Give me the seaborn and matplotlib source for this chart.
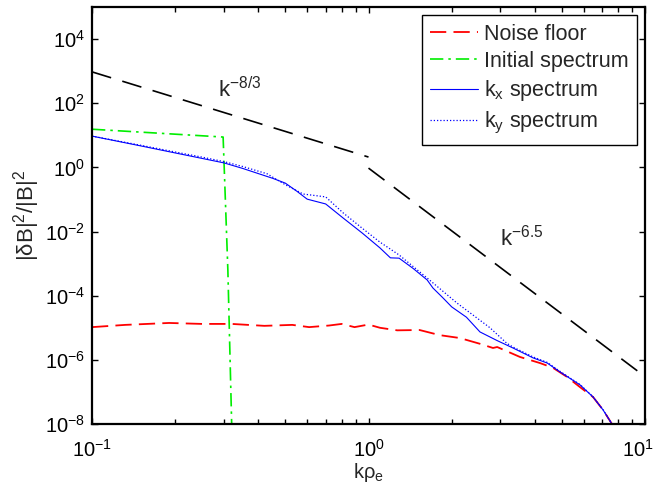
import numpy as np
import pandas as pd
import matplotlib
matplotlib.use("Agg")
import matplotlib.pyplot as plt
from matplotlib.ticker import LogLocator, NullLocator, LogFormatterSciNotation, NullFormatter
from matplotlib.transforms import ScaledTranslation
import seaborn as sns

# ---- data ----
noise_k = [0.1, 0.132, 0.19, 0.25, 0.32, 0.42, 0.53, 0.61, 0.72, 0.80, 0.89, 1.0, 1.1, 1.27,
           1.53, 1.81, 2.14, 2.53, 2.82, 2.92, 3.53, 4.17, 4.65, 5.22, 5.82, 6.49, 7.05, 7.66]
noise_log = [-4.98, -4.91, -4.85, -4.88, -4.88, -4.94, -4.91, -4.98, -4.93, -4.88, -4.98, -4.90,
             -5.0, -5.08, -5.07, -5.23, -5.32, -5.5, -5.63, -5.60, -5.91, -6.1, -6.25, -6.53,
             -6.85, -7.16, -7.56, -8.05]

init_k = [0.1, 0.298, 0.31, 0.32, 0.322]
init_log = [1.19, 0.946, -3.2, -8.0, -8.5]

kx_k = [0.1, 0.15, 0.2, 0.25, 0.3, 0.35, 0.405, 0.45, 0.5, 0.55, 0.6, 0.7, 0.81, 0.95, 1.1,
        1.2, 1.29, 1.45, 1.63, 1.71, 1.85, 2.0, 2.26, 2.53, 2.92, 3.33, 3.94, 4.43, 4.93,
        5.82, 6.49, 7.05, 7.66]
kx_log = [0.975, 0.67, 0.45, 0.28, 0.14, -0.03, -0.21, -0.34, -0.49, -0.74, -0.99, -1.14,
          -1.58, -2.05, -2.51, -2.82, -2.83, -3.15, -3.51, -3.76, -4.05, -4.35, -4.67, -5.13,
          -5.40, -5.63, -5.94, -6.1, -6.38, -6.78, -7.16, -7.56, -8.05]

ky_k = [0.1, 0.15, 0.2, 0.25, 0.3, 0.35, 0.43, 0.5, 0.58, 0.7, 0.81, 0.95, 1.1, 1.29, 1.63,
        2.09, 2.75, 3.16, 3.33, 3.94, 4.43, 4.93, 5.82, 6.49, 7.05, 7.66]
ky_log = [0.975, 0.69, 0.48, 0.32, 0.18, 0.03, -0.20, -0.54, -0.83, -0.92, -1.42, -1.9,
          -2.33, -2.73, -3.45, -4.23, -5.0, -5.48, -5.6, -5.91, -6.08, -6.36, -6.77, -7.15,
          -7.55, -8.05]

ref1_k = [0.1, 1.0]
ref1_y = [950.0, 2.1]
ref2_k = [1.0, 10.0]
ref2_y = [0.95, 3.0e-7]

# ---- style ----
sns.set_style("ticks")
plt.rcParams['font.family'] = ['Liberation Sans', 'DejaVu Sans']
plt.rcParams['mathtext.default'] = 'regular'
plt.rcParams['mathtext.fontset'] = 'custom'
plt.rcParams['mathtext.rm'] = 'Liberation Sans'
plt.rcParams['mathtext.it'] = 'Liberation Sans'

fig = plt.figure(figsize=(6.59, 4.93), dpi=100)
ax = fig.add_axes([92/659, 1-424/493, (645-92)/659, (424-7)/493])

sns.lineplot(x=noise_k, y=10**np.array(noise_log), ax=ax, color='#ff0000', lw=1.3,
             linestyle=(0, (9, 4)), label='Noise floor', sort=False)
sns.lineplot(x=init_k, y=10**np.array(init_log), ax=ax, color='#00ee00', lw=1.2,
             linestyle=(0, (8, 3, 1.5, 3)), label='Initial spectrum', sort=False)
sns.lineplot(x=kx_k, y=10**np.array(kx_log), ax=ax, color='#0000ff', lw=0.8,
             label='k$_{x}$ spectrum', sort=False)
sns.lineplot(x=ky_k, y=10**np.array(ky_log), ax=ax, color='#0000ff', lw=0.9,
             linestyle=(0, (1, 1.6)), label='k$_{y}$ spectrum', sort=False)
sns.lineplot(x=ref1_k, y=ref1_y, ax=ax, color='black', lw=1.2, linestyle=(0, (12, 7)),
             sort=False, legend=False)
sns.lineplot(x=ref2_k, y=ref2_y, ax=ax, color='black', lw=1.2, linestyle=(0, (12, 7)),
             sort=False, legend=False)

ax.set_xscale('log')
ax.set_yscale('log')
ax.set_xlim(0.1, 10)
ax.set_ylim(1e-8, 1e5)

ax.set_xticks([0.1, 1, 10])
ax.xaxis.set_minor_locator(LogLocator(base=10, subs=np.arange(2, 10)))
ax.xaxis.set_minor_formatter(NullFormatter())
ax.set_yticks([1e-8, 1e-6, 1e-4, 1e-2, 1, 1e2, 1e4])
ax.yaxis.set_minor_locator(NullLocator())
ax.xaxis.set_major_formatter(LogFormatterSciNotation())
ax.yaxis.set_major_formatter(LogFormatterSciNotation())

ax.tick_params(which='both', direction='in', top=True, right=True, labelsize=14.5,
               width=1.0, colors='black')
ax.tick_params(which='major', length=4.5)
ax.tick_params(which='minor', length=3.5)
ax.tick_params(axis='y', pad=5)
ax.tick_params(axis='x', pad=11)
for s in ax.spines.values():
    s.set_linewidth(1.6)
    s.set_color('black')

ax.set_xlabel('kρ$_{e}$', fontsize=14.5, labelpad=0)
ax.set_ylabel('|δB|$^{2}$/|B|$^{2}$', fontsize=16, labelpad=2)

ax.text(0.285, 10**2.2, 'k$^{-8/3}$', fontsize=16, ha='left', va='baseline')
ax.text(3.0, 10**-2.45, 'k$^{-6.5}$', fontsize=16, ha='left', va='baseline')

leg = ax.legend(loc='upper right', bbox_to_anchor=(0.986, 0.981), borderaxespad=0,
                fontsize=15.5, frameon=True, fancybox=False, handlelength=2.2,
                labelspacing=0.3, borderpad=0.4, handletextpad=0.3)
leg.get_frame().set_edgecolor('black')
leg.get_frame().set_linewidth(1.0)
leg.get_frame().set_alpha(1)

# nudge the right-most x tick label so it stays inside the figure
fig.canvas.draw()
last_tick = ax.xaxis.get_major_ticks()[-1]
last_tick.label1.set_transform(last_tick.label1.get_transform() +
                               ScaledTranslation(-5/72, 0, fig.dpi_scale_trans))

fig.savefig('out.png', dpi=100)
